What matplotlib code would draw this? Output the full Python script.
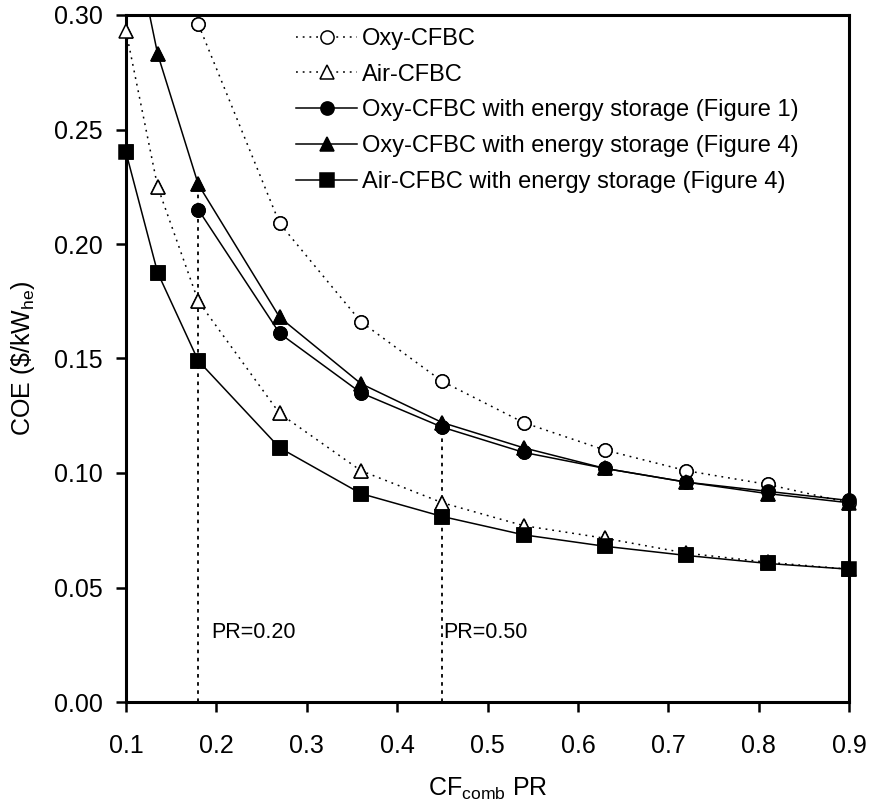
import numpy as np
import matplotlib
matplotlib.use("Agg")
import matplotlib.pyplot as plt

plt.rcParams['font.family'] = ['Liberation Sans', 'DejaVu Sans']
plt.rcParams['mathtext.fontset'] = 'custom'
plt.rcParams['mathtext.rm'] = 'Liberation Sans'
plt.rcParams['mathtext.it'] = 'Liberation Sans:italic'

# CF_comb * PR values
cf_pr = np.array([0.1, 0.135, 0.18, 0.27, 0.36, 0.45, 0.54, 0.63, 0.72, 0.81, 0.9])

# COE ($/kWh_e)
oxy_cfbc = np.array([0.48, 0.36, 0.296, 0.209, 0.166, 0.140, 0.122, 0.110, 0.101, 0.095, 0.087])
air_cfbc = np.array([0.293, 0.225, 0.175, 0.126, 0.101, 0.087, 0.077, 0.0715, 0.065, 0.061, 0.058])
oxy_es_fig1 = np.array([np.nan, np.nan, 0.215, 0.161, 0.135, 0.120, 0.109, 0.102, 0.096, 0.092, 0.088])
oxy_es_fig4 = np.array([0.35, 0.283, 0.226, 0.168, 0.139, 0.122, 0.111, 0.102, 0.096, 0.091, 0.087])
air_es_fig4 = np.array([0.240, 0.1875, 0.149, 0.111, 0.091, 0.081, 0.073, 0.068, 0.064, 0.0605, 0.058])

# marked PR cases (index into cf_pr)
pr_marks = [2, 5]
pr_labels = ['PR=0.20', 'PR=0.50']

fig = plt.figure(figsize=(8.7, 8.07), dpi=100)
ax = fig.add_axes([126/870, 1-702/807, 723/870, 687/807])

ms = 9.5
dots = (0, (1.2, 3.2))
series = [
    (oxy_cfbc, dots, 'o', 'white', 'Oxy-CFBC'),
    (air_cfbc, dots, '^', 'white', 'Air-CFBC'),
    (oxy_es_fig4, '-', '^', 'black', 'Oxy-CFBC with energy storage (Figure 4)'),
    (oxy_es_fig1, '-', 'o', 'black', 'Oxy-CFBC with energy storage (Figure 1)'),
    (air_es_fig4, '-', 's', 'black', 'Air-CFBC with energy storage (Figure 4)'),
]
handles = {}
for y, ls, mk, fc, lab in series:
    ok = ~np.isnan(y)
    h, = ax.plot(cf_pr[ok], y[ok], color='black', lw=1.1, ls=ls, marker=mk,
                 ms=ms, mfc=fc, mec='black', mew=1.1, label=lab)
    vis = ok & (y <= 0.30)
    ax.plot(cf_pr[vis], y[vis], ls='none', marker=mk, ms=ms, mfc=fc,
            mec='black', mew=1.1, clip_on=False, zorder=4)
    handles[lab] = h

# vertical guides for the PR cases
for i in pr_marks:
    ax.vlines(cf_pr[i], 0, oxy_es_fig4[i], colors='black', lw=1.3,
              linestyles=(0, (2, 2.5)), zorder=1)
ax.text(0.194, 0.0305, pr_labels[0], fontsize=15.5, va='center', ha='left')
ax.text(0.4505, 0.0305, pr_labels[1], fontsize=15.5, va='center', ha='left')

order = ['Oxy-CFBC', 'Air-CFBC', 'Oxy-CFBC with energy storage (Figure 1)',
         'Oxy-CFBC with energy storage (Figure 4)', 'Air-CFBC with energy storage (Figure 4)']
ax.legend([handles[k] for k in order], order, loc='upper left',
          bbox_to_anchor=(0.235, 0.981), frameon=False, fontsize=17,
          borderpad=0, borderaxespad=0, handlelength=2.6, handletextpad=0.2,
          labelspacing=0.58)

ax.set_xlim(0.1, 0.9)
ax.set_ylim(0, 0.30)
ax.set_xticks(np.arange(0.1, 0.91, 0.1))
ax.set_xticklabels(['%.1f' % v for v in np.arange(0.1, 0.91, 0.1)])
ax.set_yticks(np.arange(0, 0.301, 0.05))
ax.set_yticklabels(['%.2f' % v for v in np.arange(0, 0.301, 0.05)])
ax.tick_params(direction='out', length=7, width=1.8, labelsize=18)
ax.tick_params(axis='x', pad=16)
ax.tick_params(axis='y', pad=10)
for sp in ax.spines.values():
    sp.set_linewidth(2.2)

ax.set_xlabel(r'CF$_{\mathrm{comb}}$ PR', fontsize=18, labelpad=13)
ax.set_ylabel(r'COE (\$/kW$_{\mathrm{he}}$)', fontsize=18, labelpad=12)

fig.savefig('out.png', dpi=100)
